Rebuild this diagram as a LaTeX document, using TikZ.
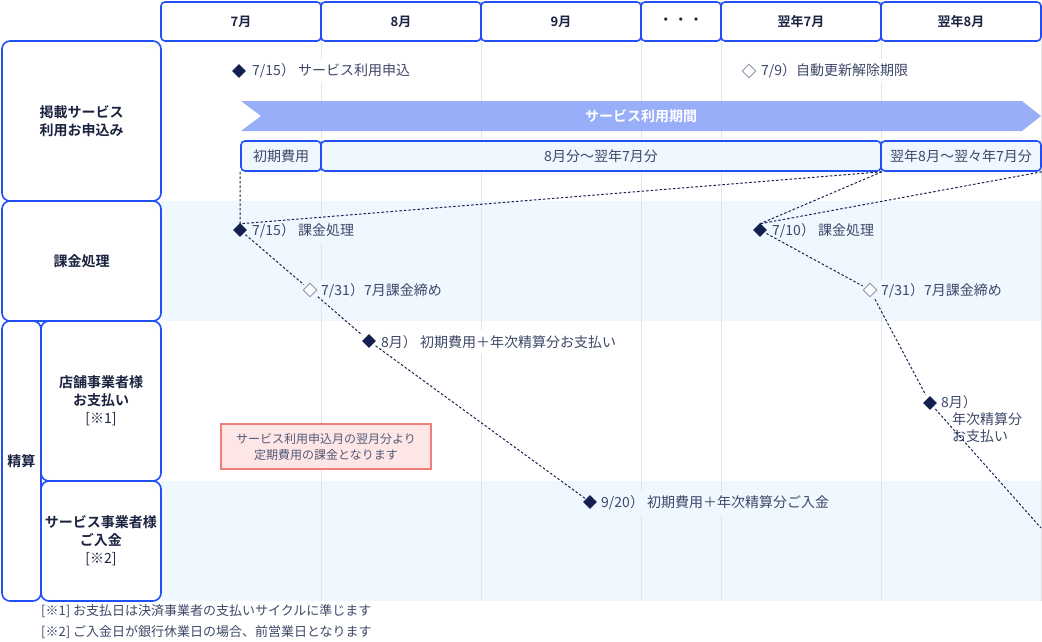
\documentclass[tikz,border=0pt]{standalone}
\usepackage{fontspec}
\setmainfont{Noto Sans CJK JP}[BoldFont={Noto Sans CJK JP Bold}]
\usetikzlibrary{shapes.geometric}
\definecolor{bblue}{HTML}{1F4FF5}
\definecolor{band}{HTML}{EFF7FF}
\definecolor{gridc}{HTML}{E2E4E8}
\definecolor{navy}{HTML}{14204F}
\definecolor{lbl}{HTML}{1B2340}
\definecolor{txt}{HTML}{3E4868}
\definecolor{hol}{HTML}{8E95A8}
\definecolor{bannerc}{HTML}{99AEF8}
\definecolor{notef}{HTML}{FFE6E6}
\definecolor{noted}{HTML}{F07C7C}
\definecolor{dashc}{HTML}{1A2350}
\tikzset{
  hdr/.style={draw=bblue, line width=1.6pt, rounded corners=4pt, fill=white, minimum height=39pt, inner sep=0pt, text=lbl, font=\fontsize{13}{16}\selectfont\bfseries},
  side/.style={draw=bblue, line width=1.6pt, rounded corners=8pt, fill=white, inner sep=0pt, text=lbl, align=center, font=\fontsize{14}{18}\selectfont},
  per/.style={draw=bblue, line width=1.6pt, rounded corners=4pt, fill=band, minimum height=30pt, inner sep=0pt, text=txt, font=\fontsize{14}{17}\selectfont},
  fd/.style={diamond, fill=navy, minimum width=14pt, minimum height=14pt, inner sep=0pt},
  hd/.style={diamond, draw=hol, fill=white, line width=0.9pt, minimum width=14pt, minimum height=14pt, inner sep=0pt},
  ms/.style={anchor=west, text=txt, inner xsep=1pt, inner ysep=5pt, font=\fontsize{14}{17}\selectfont},
  msw/.style={ms, fill=white},
  msb/.style={ms, fill=band},
  con/.style={draw=dashc, line width=1pt, dash pattern=on 2.5pt off 2pt},
  gridl/.style={draw=gridc, line width=0.8pt},
}
\begin{document}
\begin{tikzpicture}[x=1pt,y=-1pt]
\useasboundingbox (0,0) rectangle (1042,642);
% bands
\fill[band] (161,201) rectangle (1041,321);
\fill[band] (161,481) rectangle (1041,601);
% grid
\foreach \gx in {321,481,641,721,881,1041}
  \draw[gridl] (\gx,41) -- (\gx,601);
% headers
\node[hdr, minimum width=160pt] (h1) at (241,21.5) {7月};
\node[hdr, minimum width=160pt] (h2) at (401,21.5) {8月};
\node[hdr, minimum width=160pt] (h3) at (561,21.5) {9月};
\node[hdr, minimum width=80pt] (h4) at (681,21.5) {・\,・\,・};
\node[hdr, minimum width=160pt] (h5) at (801,21.5) {翌年7月};
\node[hdr, minimum width=160pt] (h6) at (961,21.5) {翌年8月};
% side labels
\node[side, minimum width=159pt, minimum height=160pt] (s1) at (81.5,121) {\bfseries 掲載サービス\\\bfseries 利用お申込み};
\node[side, minimum width=159pt, minimum height=120pt] (s2) at (81.5,261) {\bfseries 課金処理};
\node[side, minimum width=39pt, minimum height=280pt] (s3) at (21.5,461) {\bfseries 精算};
\node[side, minimum width=120pt, minimum height=160pt] (s4) at (101,401) {\bfseries 店舗事業者様\\\bfseries お支払い\\{}[※1]};
\node[side, minimum width=120pt, minimum height=120pt] (s5) at (101,541) {\bfseries サービス事業者様\\\bfseries ご入金\\{}[※2]};
% banner
\fill[bannerc] (241,101) -- (1022,101) -- (1041,116) -- (1022,131) -- (241,131) -- (261,116) -- cycle;
\node[text=white, font=\fontsize{14}{17}\selectfont\bfseries] (ban) at (641,116) {サービス利用期間};
% period boxes
\node[per, minimum width=80pt] (p1) at (281,156) {初期費用};
\node[per, minimum width=560pt] (p2) at (601,156) {8月分〜翌年7月分};
\node[per, minimum width=160pt] (p3) at (961,156) {翌年8月〜翌々年7月分};
% milestone labels
\node[msw] (l1) at (251,71) {7/15）\ サービス利用申込};
\node[msw] (l2) at (760,71) {7/9）自動更新解除期限};
\node[msb] (l3) at (251,231) {7/15）\ 課金処理};
\node[msb] (l4) at (320,291) {7/31）7月課金締め};
\node[msw] (l5) at (380,342) {8月）\ 初期費用＋年次精算分お支払い};
\node[msb] (l6) at (600,503) {9/20）\ 初期費用＋年次精算分ご入金};
\node[msb] (l7) at (771,231) {7/10）\ 課金処理};
\node[msb] (l8) at (880,291) {7/31）7月課金締め};
\node[ms, anchor=north west, align=left, inner ysep=0pt] (l9) at (940,395) {8月）\\\hspace*{11pt}年次精算分\\\hspace*{11pt}お支払い};
% note
\node[draw=noted, fill=notef, line width=1.6pt, minimum width=210pt, minimum height=45pt, align=center, text=txt!90!white, font=\fontsize{12}{16}\selectfont] (note) at (326,446.5) {サービス利用申込月の翌月分より\\定期費用の課金となります};
% footnotes
\node[anchor=west, text=txt, inner sep=0pt, font=\fontsize{13}{16}\selectfont] (f1) at (41,611) {[※1] お支払日は決済事業者の支払いサイクルに準じます};
\node[anchor=west, text=txt, inner sep=0pt, font=\fontsize{13}{16}\selectfont] (f2) at (41,632) {[※2] ご入金日が銀行休業日の場合、前営業日となります};
% diamonds
\node[fd] (d1) at (239,71) {};
\node[hd] (d2) at (749,71) {};
\node[fd] (d3) at (240,230) {};
\node[hd] (d4) at (310,290) {};
\node[fd] (d5) at (369,341) {};
\node[fd] (d6) at (590,502) {};
\node[fd] (d7) at (760,230) {};
\node[hd] (d8) at (870,290) {};
\node[fd] (d9) at (930,403) {};
\coordinate (e9) at (1041,528);
% connectors
\draw[con] (p1.south west) -- ([yshift=-1pt]d3.north);
\draw[con] (p2.south east) -- ([yshift=-1pt]d3.north);
\draw[con] (p2.south east) -- ([yshift=-1pt]d7.north);
\draw[con] (p3.south east) -- ([yshift=-1pt]d7.north);
\draw[con, shorten <=2pt, shorten >=3pt] (d3) -- (d4);
\draw[con, shorten <=5pt, shorten >=4pt] (d4) -- (d5);
\draw[con, shorten <=3pt] (d5) -- (d6);
\draw[con, shorten <=2pt, shorten >=3pt] (d7) -- (d8);
\draw[con, shorten <=5pt, shorten >=4pt] (d8) -- (d9);
\draw[con, shorten <=3pt] (d9) -- (e9);
\end{tikzpicture}
\end{document}
